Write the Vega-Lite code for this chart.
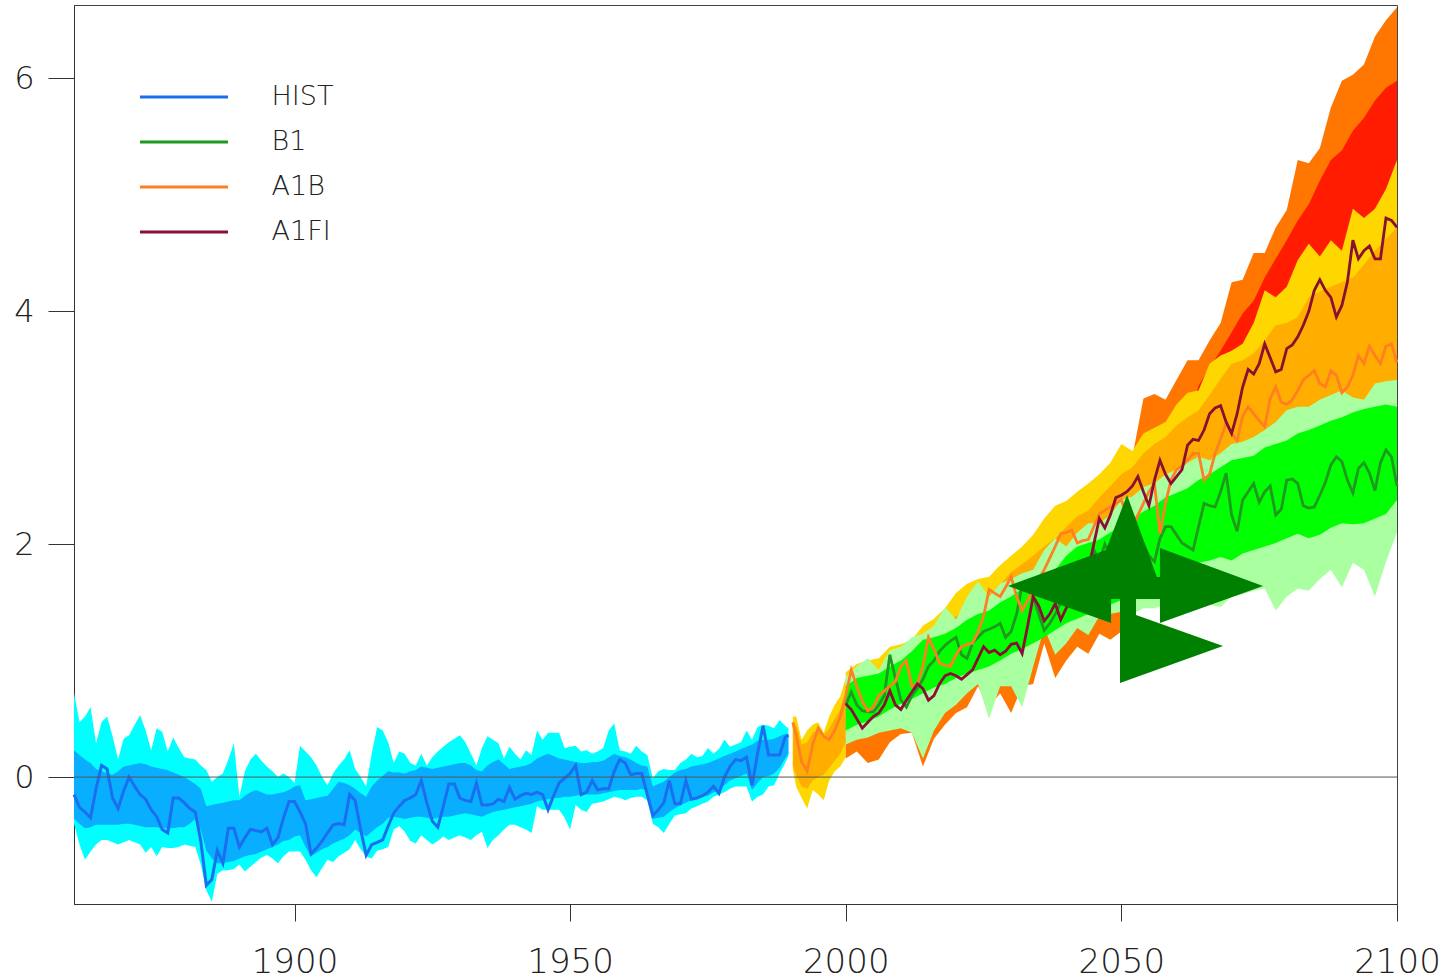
{
 "$schema": "https://vega.github.io/schema/vega-lite/v6.json",
 "width": 1323,
 "height": 899,
 "autosize": {"type": "none"},
 "padding": {"left": 74, "top": 5, "right": 50, "bottom": 76},
 "background": "white",
 "datasets": {
  "hist": [
{"year":1860,"h95":0.72,"h50":0.23,"l50":-0.36,"l95":-0.40,"m":-0.15},
{"year":1861,"h95":0.47,"h50":0.19,"l50":-0.40,"l95":-0.58,"m":-0.26},
{"year":1862,"h95":0.52,"h50":0.15,"l50":-0.44,"l95":-0.71,"m":-0.30},
{"year":1863,"h95":0.60,"h50":0.12,"l50":-0.43,"l95":-0.64,"m":-0.35},
{"year":1864,"h95":0.29,"h50":0.07,"l50":-0.41,"l95":-0.58,"m":-0.10},
{"year":1865,"h95":0.47,"h50":0.05,"l50":-0.41,"l95":-0.54,"m":0.10},
{"year":1866,"h95":0.52,"h50":0.03,"l50":-0.41,"l95":-0.54,"m":0.07},
{"year":1867,"h95":0.35,"h50":0.02,"l50":-0.41,"l95":-0.56,"m":-0.18},
{"year":1868,"h95":0.15,"h50":0.05,"l50":-0.41,"l95":-0.58,"m":-0.27},
{"year":1869,"h95":0.33,"h50":0.09,"l50":-0.40,"l95":-0.56,"m":-0.12},
{"year":1870,"h95":0.36,"h50":0.10,"l50":-0.40,"l95":-0.54,"m":0.00},
{"year":1871,"h95":0.45,"h50":0.11,"l50":-0.41,"l95":-0.56,"m":-0.08},
{"year":1872,"h95":0.53,"h50":0.12,"l50":-0.42,"l95":-0.58,"m":-0.15},
{"year":1873,"h95":0.40,"h50":0.11,"l50":-0.43,"l95":-0.65,"m":-0.19},
{"year":1874,"h95":0.23,"h50":0.09,"l50":-0.43,"l95":-0.60,"m":-0.28},
{"year":1875,"h95":0.42,"h50":0.08,"l50":-0.43,"l95":-0.68,"m":-0.34},
{"year":1876,"h95":0.39,"h50":0.07,"l50":-0.44,"l95":-0.60,"m":-0.45},
{"year":1877,"h95":0.22,"h50":0.06,"l50":-0.44,"l95":-0.61,"m":-0.48},
{"year":1878,"h95":0.34,"h50":0.04,"l50":-0.44,"l95":-0.61,"m":-0.18},
{"year":1879,"h95":0.25,"h50":0.02,"l50":-0.43,"l95":-0.60,"m":-0.18},
{"year":1880,"h95":0.17,"h50":0.00,"l50":-0.43,"l95":-0.58,"m":-0.22},
{"year":1881,"h95":0.16,"h50":-0.03,"l50":-0.40,"l95":-0.59,"m":-0.27},
{"year":1882,"h95":0.15,"h50":-0.06,"l50":-0.36,"l95":-0.60,"m":-0.30},
{"year":1883,"h95":0.10,"h50":-0.10,"l50":-0.45,"l95":-0.75,"m":-0.55},
{"year":1884,"h95":0.06,"h50":-0.25,"l50":-0.63,"l95":-0.97,"m":-0.93},
{"year":1885,"h95":-0.04,"h50":-0.24,"l50":-0.70,"l95":-1.07,"m":-0.88},
{"year":1886,"h95":0.00,"h50":-0.23,"l50":-0.74,"l95":-0.83,"m":-0.63},
{"year":1887,"h95":0.03,"h50":-0.22,"l50":-0.74,"l95":-0.80,"m":-0.74},
{"year":1888,"h95":0.15,"h50":-0.21,"l50":-0.73,"l95":-0.80,"m":-0.44},
{"year":1889,"h95":0.29,"h50":-0.20,"l50":-0.72,"l95":-0.79,"m":-0.44},
{"year":1890,"h95":-0.17,"h50":-0.20,"l50":-0.70,"l95":-0.75,"m":-0.60},
{"year":1891,"h95":0.05,"h50":-0.16,"l50":-0.68,"l95":-0.81,"m":-0.52},
{"year":1892,"h95":0.15,"h50":-0.13,"l50":-0.67,"l95":-0.77,"m":-0.45},
{"year":1893,"h95":0.20,"h50":-0.11,"l50":-0.66,"l95":-0.73,"m":-0.46},
{"year":1894,"h95":0.14,"h50":-0.13,"l50":-0.64,"l95":-0.69,"m":-0.47},
{"year":1895,"h95":0.09,"h50":-0.15,"l50":-0.62,"l95":-0.67,"m":-0.44},
{"year":1896,"h95":0.05,"h50":-0.15,"l50":-0.60,"l95":-0.70,"m":-0.58},
{"year":1897,"h95":0.00,"h50":-0.14,"l50":-0.58,"l95":-0.74,"m":-0.52},
{"year":1898,"h95":0.03,"h50":-0.13,"l50":-0.55,"l95":-0.68,"m":-0.35},
{"year":1899,"h95":0.00,"h50":-0.11,"l50":-0.54,"l95":-0.64,"m":-0.21},
{"year":1900,"h95":-0.05,"h50":-0.08,"l50":-0.51,"l95":-0.64,"m":-0.21},
{"year":1901,"h95":0.27,"h50":-0.07,"l50":-0.50,"l95":-0.64,"m":-0.30},
{"year":1902,"h95":0.22,"h50":-0.20,"l50":-0.60,"l95":-0.71,"m":-0.40},
{"year":1903,"h95":0.17,"h50":-0.19,"l50":-0.68,"l95":-0.80,"m":-0.66},
{"year":1904,"h95":0.10,"h50":-0.18,"l50":-0.65,"l95":-0.86,"m":-0.61},
{"year":1905,"h95":0.00,"h50":-0.17,"l50":-0.62,"l95":-0.78,"m":-0.55},
{"year":1906,"h95":-0.07,"h50":-0.16,"l50":-0.60,"l95":-0.71,"m":-0.48},
{"year":1907,"h95":0.03,"h50":-0.10,"l50":-0.57,"l95":-0.73,"m":-0.41},
{"year":1908,"h95":0.10,"h50":-0.04,"l50":-0.55,"l95":-0.68,"m":-0.40},
{"year":1909,"h95":0.15,"h50":-0.05,"l50":-0.53,"l95":-0.65,"m":-0.41},
{"year":1910,"h95":0.23,"h50":-0.07,"l50":-0.50,"l95":-0.62,"m":-0.15},
{"year":1911,"h95":0.07,"h50":-0.10,"l50":-0.45,"l95":-0.54,"m":-0.20},
{"year":1912,"h95":0.00,"h50":-0.14,"l50":-0.48,"l95":-0.62,"m":-0.45},
{"year":1913,"h95":-0.08,"h50":-0.17,"l50":-0.51,"l95":-0.68,"m":-0.67},
{"year":1914,"h95":0.20,"h50":-0.08,"l50":-0.47,"l95":-0.70,"m":-0.58},
{"year":1915,"h95":0.43,"h50":-0.03,"l50":-0.43,"l95":-0.63,"m":-0.56},
{"year":1916,"h95":0.40,"h50":0.01,"l50":-0.40,"l95":-0.62,"m":-0.54},
{"year":1917,"h95":0.30,"h50":0.05,"l50":-0.35,"l95":-0.60,"m":-0.42},
{"year":1918,"h95":0.12,"h50":0.04,"l50":-0.34,"l95":-0.45,"m":-0.31},
{"year":1919,"h95":0.22,"h50":0.04,"l50":-0.35,"l95":-0.42,"m":-0.25},
{"year":1920,"h95":0.20,"h50":0.03,"l50":-0.36,"l95":-0.47,"m":-0.20},
{"year":1921,"h95":0.12,"h50":0.05,"l50":-0.35,"l95":-0.55,"m":-0.18},
{"year":1922,"h95":0.10,"h50":0.06,"l50":-0.34,"l95":-0.57,"m":-0.15},
{"year":1923,"h95":0.20,"h50":0.09,"l50":-0.34,"l95":-0.50,"m":-0.03},
{"year":1924,"h95":0.10,"h50":0.08,"l50":-0.35,"l95":-0.54,"m":-0.22},
{"year":1925,"h95":0.17,"h50":0.07,"l50":-0.36,"l95":-0.58,"m":-0.38},
{"year":1926,"h95":0.22,"h50":0.08,"l50":-0.35,"l95":-0.55,"m":-0.43},
{"year":1927,"h95":0.26,"h50":0.09,"l50":-0.34,"l95":-0.51,"m":-0.25},
{"year":1928,"h95":0.30,"h50":0.10,"l50":-0.34,"l95":-0.54,"m":-0.06},
{"year":1929,"h95":0.33,"h50":0.11,"l50":-0.33,"l95":-0.52,"m":-0.06},
{"year":1930,"h95":0.36,"h50":0.12,"l50":-0.32,"l95":-0.50,"m":-0.18},
{"year":1931,"h95":0.30,"h50":0.12,"l50":-0.31,"l95":-0.52,"m":-0.20},
{"year":1932,"h95":0.20,"h50":0.10,"l50":-0.32,"l95":-0.54,"m":-0.21},
{"year":1933,"h95":0.10,"h50":0.06,"l50":-0.33,"l95":-0.50,"m":-0.05},
{"year":1934,"h95":0.25,"h50":0.05,"l50":-0.34,"l95":-0.47,"m":-0.24},
{"year":1935,"h95":0.35,"h50":0.10,"l50":-0.32,"l95":-0.61,"m":-0.24},
{"year":1936,"h95":0.32,"h50":0.13,"l50":-0.30,"l95":-0.54,"m":-0.23},
{"year":1937,"h95":0.29,"h50":0.15,"l50":-0.29,"l95":-0.50,"m":-0.19},
{"year":1938,"h95":0.16,"h50":0.11,"l50":-0.28,"l95":-0.45,"m":-0.21},
{"year":1939,"h95":0.26,"h50":0.07,"l50":-0.27,"l95":-0.41,"m":-0.09},
{"year":1940,"h95":0.20,"h50":0.08,"l50":-0.26,"l95":-0.41,"m":-0.19},
{"year":1941,"h95":0.15,"h50":0.09,"l50":-0.25,"l95":-0.43,"m":-0.16},
{"year":1942,"h95":0.23,"h50":0.10,"l50":-0.24,"l95":-0.45,"m":-0.14},
{"year":1943,"h95":0.19,"h50":0.12,"l50":-0.23,"l95":-0.48,"m":-0.15},
{"year":1944,"h95":0.40,"h50":0.16,"l50":-0.21,"l95":-0.25,"m":-0.13},
{"year":1945,"h95":0.32,"h50":0.18,"l50":-0.20,"l95":-0.28,"m":-0.15},
{"year":1946,"h95":0.38,"h50":0.20,"l50":-0.19,"l95":-0.28,"m":-0.28},
{"year":1947,"h95":0.38,"h50":0.18,"l50":-0.18,"l95":-0.28,"m":-0.16},
{"year":1948,"h95":0.38,"h50":0.16,"l50":-0.18,"l95":-0.28,"m":-0.05},
{"year":1949,"h95":0.25,"h50":0.15,"l50":-0.17,"l95":-0.35,"m":-0.01},
{"year":1950,"h95":0.26,"h50":0.14,"l50":-0.17,"l95":-0.45,"m":0.03},
{"year":1951,"h95":0.27,"h50":0.13,"l50":-0.16,"l95":-0.24,"m":0.10},
{"year":1952,"h95":0.22,"h50":0.12,"l50":-0.15,"l95":-0.28,"m":-0.15},
{"year":1953,"h95":0.23,"h50":0.12,"l50":-0.15,"l95":-0.30,"m":-0.13},
{"year":1954,"h95":0.20,"h50":0.13,"l50":-0.15,"l95":-0.23,"m":-0.03},
{"year":1955,"h95":0.22,"h50":0.13,"l50":-0.15,"l95":-0.22,"m":-0.11},
{"year":1956,"h95":0.25,"h50":0.14,"l50":-0.14,"l95":-0.21,"m":-0.10},
{"year":1957,"h95":0.40,"h50":0.17,"l50":-0.13,"l95":-0.19,"m":-0.10},
{"year":1958,"h95":0.46,"h50":0.20,"l50":-0.12,"l95":-0.17,"m":0.05},
{"year":1959,"h95":0.23,"h50":0.18,"l50":-0.11,"l95":-0.18,"m":0.15},
{"year":1960,"h95":0.22,"h50":0.17,"l50":-0.11,"l95":-0.20,"m":0.12},
{"year":1961,"h95":0.20,"h50":0.15,"l50":-0.11,"l95":-0.18,"m":0.02},
{"year":1962,"h95":0.27,"h50":0.12,"l50":-0.11,"l95":-0.17,"m":0.03},
{"year":1963,"h95":0.22,"h50":0.10,"l50":-0.10,"l95":-0.17,"m":0.03},
{"year":1964,"h95":0.19,"h50":0.09,"l50":-0.12,"l95":-0.20,"m":-0.15},
{"year":1965,"h95":-0.01,"h50":-0.08,"l50":-0.36,"l95":-0.40,"m":-0.33},
{"year":1966,"h95":0.05,"h50":-0.06,"l50":-0.35,"l95":-0.43,"m":-0.28},
{"year":1967,"h95":0.07,"h50":-0.04,"l50":-0.34,"l95":-0.48,"m":-0.22},
{"year":1968,"h95":0.06,"h50":0.00,"l50":-0.30,"l95":-0.40,"m":-0.03},
{"year":1969,"h95":0.06,"h50":0.04,"l50":-0.27,"l95":-0.33,"m":-0.23},
{"year":1970,"h95":0.12,"h50":0.06,"l50":-0.24,"l95":-0.32,"m":-0.23},
{"year":1971,"h95":0.15,"h50":0.07,"l50":-0.22,"l95":-0.31,"m":-0.03},
{"year":1972,"h95":0.20,"h50":0.09,"l50":-0.20,"l95":-0.27,"m":-0.19},
{"year":1973,"h95":0.17,"h50":0.10,"l50":-0.19,"l95":-0.25,"m":-0.18},
{"year":1974,"h95":0.18,"h50":0.11,"l50":-0.17,"l95":-0.23,"m":-0.16},
{"year":1975,"h95":0.25,"h50":0.12,"l50":-0.16,"l95":-0.21,"m":-0.13},
{"year":1976,"h95":0.20,"h50":0.14,"l50":-0.13,"l95":-0.17,"m":-0.08},
{"year":1977,"h95":0.24,"h50":0.16,"l50":-0.11,"l95":-0.15,"m":-0.14},
{"year":1978,"h95":0.32,"h50":0.18,"l50":-0.07,"l95":-0.13,"m":0.00},
{"year":1979,"h95":0.26,"h50":0.20,"l50":-0.03,"l95":-0.10,"m":0.09},
{"year":1980,"h95":0.28,"h50":0.22,"l50":-0.01,"l95":-0.08,"m":0.15},
{"year":1981,"h95":0.30,"h50":0.24,"l50":0.01,"l95":-0.08,"m":0.14},
{"year":1982,"h95":0.40,"h50":0.26,"l50":0.03,"l95":-0.08,"m":0.17},
{"year":1983,"h95":0.32,"h50":0.28,"l50":-0.11,"l95":-0.21,"m":-0.07},
{"year":1984,"h95":0.43,"h50":0.31,"l50":-0.05,"l95":-0.17,"m":0.20},
{"year":1985,"h95":0.45,"h50":0.32,"l50":0.00,"l95":-0.15,"m":0.44},
{"year":1986,"h95":0.44,"h50":0.32,"l50":0.01,"l95":-0.08,"m":0.19},
{"year":1987,"h95":0.42,"h50":0.33,"l50":0.03,"l95":-0.07,"m":0.19},
{"year":1988,"h95":0.49,"h50":0.35,"l50":0.08,"l95":0.03,"m":0.19},
{"year":1989,"h95":0.44,"h50":0.37,"l50":0.16,"l95":0.12,"m":0.34},
{"year":1989.6,"h95":0.42,"h50":0.37,"l50":0.20,"l95":0.18,"m":0.36}
  ],
  "trans": [
{"year":1990.4,"h95":0.52,"h50":0.48,"l50":0.10,"l95":0.07,"m":0.47},
{"year":1991,"h95":0.52,"h50":0.45,"l50":0.02,"l95":-0.08,"m":0.36},
{"year":1992,"h95":0.32,"h50":0.28,"l50":-0.08,"l95":-0.18,"m":0.13},
{"year":1993,"h95":0.40,"h50":0.30,"l50":-0.10,"l95":-0.27,"m":0.05},
{"year":1994,"h95":0.45,"h50":0.38,"l50":-0.03,"l95":-0.11,"m":0.28},
{"year":1995,"h95":0.47,"h50":0.40,"l50":0.00,"l95":-0.15,"m":0.42},
{"year":1996,"h95":0.38,"h50":0.36,"l50":0.02,"l95":-0.20,"m":0.35},
{"year":1997,"h95":0.52,"h50":0.42,"l50":0.08,"l95":-0.03,"m":0.32},
{"year":1998,"h95":0.62,"h50":0.50,"l50":0.14,"l95":0.05,"m":0.40},
{"year":1999,"h95":0.69,"h50":0.58,"l50":0.20,"l95":0.09,"m":0.52},
{"year":2000,"h95":0.85,"h50":0.68,"l50":0.30,"l95":0.17,"m":0.70}
  ],
  "bands": [
{"year":2000,"f95h":0.80,"f50h":0.63,"f50l":0.40,"f95l":0.16,"b95h":0.90,"b50h":0.80,"b50l":0.45,"b95l":0.33,"g95h":0.86,"g50h":0.78,"g50l":0.40,"g95l":0.28},
{"year":2002,"f95h":0.89,"f50h":0.72,"f50l":0.45,"f95l":0.22,"b95h":0.97,"b50h":0.84,"b50l":0.50,"b95l":0.37,"g95h":0.95,"g50h":0.85,"g50l":0.45,"g95l":0.32},
{"year":2004,"f95h":0.92,"f50h":0.75,"f50l":0.48,"f95l":0.12,"b95h":1.00,"b50h":0.86,"b50l":0.53,"b95l":0.39,"g95h":1.02,"g50h":0.87,"g50l":0.48,"g95l":0.34},
{"year":2006,"f95h":0.94,"f50h":0.77,"f50l":0.52,"f95l":0.15,"b95h":1.02,"b50h":0.90,"b50l":0.57,"b95l":0.43,"g95h":0.92,"g50h":0.89,"g50l":0.52,"g95l":0.38},
{"year":2008,"f95h":1.04,"f50h":0.87,"f50l":0.58,"f95l":0.30,"b95h":1.12,"b50h":0.98,"b50l":0.63,"b95l":0.45,"g95h":1.09,"g50h":0.95,"g50l":0.58,"g95l":0.40},
{"year":2010,"f95h":1.06,"f50h":0.89,"f50l":0.63,"f95l":0.37,"b95h":1.14,"b50h":1.06,"b50l":0.68,"b95l":0.47,"g95h":1.12,"g50h":1.00,"g50l":0.63,"g95l":0.42},
{"year":2012,"f95h":1.10,"f50h":0.93,"f50l":0.67,"f95l":0.38,"b95h":1.18,"b50h":1.10,"b50l":0.72,"b95l":0.43,"g95h":1.20,"g50h":1.08,"g50l":0.67,"g95l":0.38},
{"year":2014,"f95h":1.22,"f50h":1.05,"f50l":0.72,"f95l":0.09,"b95h":1.30,"b50h":1.17,"b50l":0.77,"b95l":0.21,"g95h":1.23,"g50h":1.18,"g50l":0.72,"g95l":0.16},
{"year":2016,"f95h":1.28,"f50h":1.11,"f50l":0.77,"f95l":0.33,"b95h":1.36,"b50h":1.24,"b50l":0.82,"b95l":0.45,"g95h":1.30,"g50h":1.20,"g50l":0.77,"g95l":0.40},
{"year":2018,"f95h":1.37,"f50h":1.20,"f50l":0.80,"f95l":0.45,"b95h":1.45,"b50h":1.31,"b50l":0.85,"b95l":0.60,"g95h":1.46,"g50h":1.23,"g50l":0.80,"g95l":0.55},
{"year":2020,"f95h":1.50,"f50h":1.33,"f50l":0.85,"f95l":0.55,"b95h":1.58,"b50h":1.38,"b50l":0.90,"b95l":0.67,"g95h":1.35,"g50h":1.28,"g50l":0.85,"g95l":0.62},
{"year":2022,"f95h":1.58,"f50h":1.41,"f50l":0.89,"f95l":0.60,"b95h":1.66,"b50h":1.45,"b50l":0.94,"b95l":0.77,"g95h":1.55,"g50h":1.35,"g50l":0.89,"g95l":0.72},
{"year":2024,"f95h":1.62,"f50h":1.45,"f50l":0.92,"f95l":0.78,"b95h":1.70,"b50h":1.52,"b50l":0.97,"b95l":0.85,"g95h":1.68,"g50h":1.40,"g50l":0.92,"g95l":0.80},
{"year":2026,"f95h":1.64,"f50h":1.47,"f50l":0.95,"f95l":0.60,"b95h":1.72,"b50h":1.57,"b50l":1.00,"b95l":0.55,"g95h":1.55,"g50h":1.43,"g50l":0.95,"g95l":0.50},
{"year":2028,"f95h":1.74,"f50h":1.57,"f50l":1.00,"f95l":0.72,"b95h":1.82,"b50h":1.65,"b50l":1.05,"b95l":0.83,"g95h":1.66,"g50h":1.50,"g50l":1.00,"g95l":0.78},
{"year":2030,"f95h":1.82,"f50h":1.65,"f50l":1.06,"f95l":0.55,"b95h":1.90,"b50h":1.76,"b50l":1.11,"b95l":0.83,"g95h":1.70,"g50h":1.55,"g50l":1.06,"g95l":0.78},
{"year":2032,"f95h":1.90,"f50h":1.73,"f50l":1.10,"f95l":0.78,"b95h":1.98,"b50h":1.83,"b50l":1.15,"b95l":0.65,"g95h":1.75,"g50h":1.62,"g50l":1.10,"g95l":0.60},
{"year":2034,"f95h":2.00,"f50h":1.83,"f50l":1.15,"f95l":0.80,"b95h":2.08,"b50h":1.90,"b50l":1.20,"b95l":1.00,"g95h":1.78,"g50h":1.69,"g50l":1.15,"g95l":0.95},
{"year":2036,"f95h":2.14,"f50h":1.97,"f50l":1.20,"f95l":1.15,"b95h":2.22,"b50h":1.98,"b50l":1.25,"b95l":1.33,"g95h":1.95,"g50h":1.74,"g50l":1.20,"g95l":1.28},
{"year":2038,"f95h":2.25,"f50h":2.08,"f50l":1.26,"f95l":0.85,"b95h":2.33,"b50h":2.05,"b50l":1.31,"b95l":1.10,"g95h":2.05,"g50h":1.78,"g50l":1.26,"g95l":1.05},
{"year":2040,"f95h":2.29,"f50h":2.12,"f50l":1.32,"f95l":1.00,"b95h":2.37,"b50h":2.15,"b50l":1.37,"b95l":1.20,"g95h":1.98,"g50h":1.90,"g50l":1.32,"g95l":1.15},
{"year":2042,"f95h":2.37,"f50h":2.20,"f50l":1.36,"f95l":1.12,"b95h":2.45,"b50h":2.24,"b50l":1.41,"b95l":1.33,"g95h":2.10,"g50h":1.98,"g50l":1.36,"g95l":1.28},
{"year":2044,"f95h":2.44,"f50h":2.27,"f50l":1.40,"f95l":1.06,"b95h":2.52,"b50h":2.29,"b50l":1.45,"b95l":1.27,"g95h":2.18,"g50h":2.01,"g50l":1.40,"g95l":1.22},
{"year":2046,"f95h":2.52,"f50h":2.35,"f50l":1.44,"f95l":1.23,"b95h":2.60,"b50h":2.40,"b50l":1.49,"b95l":1.43,"g95h":2.18,"g50h":2.04,"g50l":1.44,"g95l":1.38},
{"year":2048,"f95h":2.62,"f50h":2.45,"f50l":1.48,"f95l":1.18,"b95h":2.70,"b50h":2.50,"b50l":1.53,"b95l":1.45,"g95h":2.25,"g50h":2.10,"g50l":1.48,"g95l":1.40},
{"year":2050,"f95h":2.78,"f50h":2.61,"f50l":1.52,"f95l":1.25,"b95h":2.86,"b50h":2.60,"b50l":1.57,"b95l":1.47,"g95h":2.38,"g50h":2.16,"g50l":1.52,"g95l":1.42},
{"year":2052,"f95h":2.75,"f50h":2.55,"f50l":1.56,"f95l":1.70,"b95h":2.80,"b50h":2.66,"b50l":1.61,"b95l":1.45,"g95h":2.41,"g50h":2.22,"g50l":1.56,"g95l":1.40},
{"year":2054,"f95h":3.25,"f50h":2.70,"f50l":1.60,"f95l":1.75,"b95h":2.95,"b50h":2.78,"b50l":1.65,"b95l":1.50,"g95h":2.49,"g50h":2.28,"g50l":1.60,"g95l":1.45},
{"year":2056,"f95h":3.29,"f50h":2.75,"f50l":1.65,"f95l":1.75,"b95h":3.00,"b50h":2.86,"b50l":1.70,"b95l":1.50,"g95h":2.52,"g50h":2.33,"g50l":1.65,"g95l":1.45},
{"year":2058,"f95h":3.24,"f50h":2.80,"f50l":1.72,"f95l":1.79,"b95h":3.05,"b50h":2.92,"b50l":1.77,"b95l":1.54,"g95h":2.60,"g50h":2.40,"g50l":1.72,"g95l":1.49},
{"year":2060,"f95h":3.41,"f50h":2.95,"f50l":1.78,"f95l":1.72,"b95h":3.20,"b50h":3.02,"b50l":1.83,"b95l":1.47,"g95h":2.64,"g50h":2.44,"g50l":1.78,"g95l":1.42},
{"year":2062,"f95h":3.58,"f50h":3.05,"f50l":1.82,"f95l":1.80,"b95h":3.30,"b50h":3.09,"b50l":1.87,"b95l":1.55,"g95h":2.70,"g50h":2.48,"g50l":1.82,"g95l":1.50},
{"year":2064,"f95h":3.58,"f50h":3.36,"f50l":1.84,"f95l":1.85,"b95h":3.32,"b50h":3.15,"b50l":1.89,"b95l":1.60,"g95h":2.75,"g50h":2.55,"g50l":1.84,"g95l":1.55},
{"year":2066,"f95h":3.75,"f50h":3.52,"f50l":1.86,"f95l":1.78,"b95h":3.55,"b50h":3.28,"b50l":1.91,"b95l":1.53,"g95h":2.72,"g50h":2.60,"g50l":1.86,"g95l":1.48},
{"year":2068,"f95h":3.90,"f50h":3.66,"f50l":1.89,"f95l":1.76,"b95h":3.62,"b50h":3.42,"b50l":1.94,"b95l":1.51,"g95h":2.78,"g50h":2.66,"g50l":1.89,"g95l":1.46},
{"year":2070,"f95h":4.25,"f50h":3.82,"f50l":1.86,"f95l":1.85,"b95h":3.66,"b50h":3.55,"b50l":1.91,"b95l":1.60,"g95h":2.86,"g50h":2.72,"g50l":1.86,"g95l":1.55},
{"year":2072,"f95h":4.27,"f50h":3.98,"f50l":1.92,"f95l":1.87,"b95h":3.72,"b50h":3.58,"b50l":1.97,"b95l":1.62,"g95h":2.88,"g50h":2.74,"g50l":1.92,"g95l":1.57},
{"year":2074,"f95h":4.50,"f50h":4.09,"f50l":1.95,"f95l":1.90,"b95h":3.90,"b50h":3.64,"b50l":2.00,"b95l":1.65,"g95h":2.92,"g50h":2.76,"g50l":1.95,"g95l":1.60},
{"year":2076,"f95h":4.50,"f50h":4.29,"f50l":1.98,"f95l":1.92,"b95h":4.18,"b50h":3.75,"b50l":2.03,"b95l":1.67,"g95h":2.98,"g50h":2.83,"g50l":1.98,"g95l":1.62},
{"year":2078,"f95h":4.72,"f50h":4.45,"f50l":2.01,"f95l":1.73,"b95h":4.12,"b50h":3.88,"b50l":2.06,"b95l":1.48,"g95h":3.05,"g50h":2.86,"g50l":2.01,"g95l":1.43},
{"year":2080,"f95h":4.87,"f50h":4.61,"f50l":2.05,"f95l":1.85,"b95h":4.21,"b50h":3.90,"b50l":2.10,"b95l":1.60,"g95h":3.15,"g50h":2.89,"g50l":2.05,"g95l":1.55},
{"year":2082,"f95h":5.30,"f50h":4.78,"f50l":2.09,"f95l":1.92,"b95h":4.44,"b50h":3.95,"b50l":2.14,"b95l":1.67,"g95h":3.18,"g50h":2.95,"g50l":2.09,"g95l":1.62},
{"year":2084,"f95h":5.27,"f50h":4.92,"f50l":2.05,"f95l":1.90,"b95h":4.58,"b50h":4.12,"b50l":2.10,"b95l":1.65,"g95h":3.18,"g50h":2.98,"g50l":2.05,"g95l":1.60},
{"year":2086,"f95h":5.40,"f50h":5.12,"f50l":2.08,"f95l":2.00,"b95h":4.47,"b50h":4.17,"b50l":2.13,"b95l":1.75,"g95h":3.24,"g50h":3.02,"g50l":2.08,"g95l":1.70},
{"year":2088,"f95h":5.75,"f50h":5.30,"f50l":2.14,"f95l":2.08,"b95h":4.61,"b50h":4.21,"b50l":2.19,"b95l":1.83,"g95h":3.28,"g50h":3.06,"g50l":2.14,"g95l":1.78},
{"year":2090,"f95h":5.98,"f50h":5.38,"f50l":2.18,"f95l":1.93,"b95h":4.52,"b50h":4.25,"b50l":2.23,"b95l":1.68,"g95h":3.32,"g50h":3.09,"g50l":2.18,"g95l":1.63},
{"year":2092,"f95h":6.03,"f50h":5.55,"f50l":2.17,"f95l":2.14,"b95h":4.88,"b50h":4.29,"b50l":2.22,"b95l":1.89,"g95h":3.26,"g50h":3.13,"g50l":2.17,"g95l":1.84},
{"year":2094,"f95h":6.12,"f50h":5.66,"f50l":2.18,"f95l":2.08,"b95h":4.80,"b50h":4.40,"b50l":2.23,"b95l":1.83,"g95h":3.24,"g50h":3.16,"g50l":2.18,"g95l":1.78},
{"year":2096,"f95h":6.36,"f50h":5.81,"f50l":2.22,"f95l":1.85,"b95h":4.88,"b50h":4.52,"b50l":2.27,"b95l":1.60,"g95h":3.38,"g50h":3.18,"g50l":2.22,"g95l":1.55},
{"year":2098,"f95h":6.50,"f50h":5.92,"f50l":2.26,"f95l":2.15,"b95h":5.05,"b50h":4.62,"b50l":2.31,"b95l":1.90,"g95h":3.40,"g50h":3.20,"g50l":2.26,"g95l":1.85},
{"year":2100,"f95h":6.61,"f50h":5.98,"f50l":2.38,"f95l":2.40,"b95h":5.30,"b50h":4.72,"b50l":2.43,"b95l":2.15,"g95h":3.41,"g50h":3.18,"g50l":2.38,"g95l":2.10}
  ],
  "lines": [
{"year":2000,"g":0.62,"b":0.70,"f":0.63},
{"year":2001,"g":0.73,"b":0.92,"f":0.58},
{"year":2002,"g":0.62,"b":0.78,"f":0.50},
{"year":2003,"g":0.57,"b":0.65,"f":0.42},
{"year":2004,"g":0.56,"b":0.57,"f":0.47},
{"year":2005,"g":0.56,"b":0.60,"f":0.52},
{"year":2006,"g":0.62,"b":0.70,"f":0.55},
{"year":2007,"g":0.70,"b":0.74,"f":0.62},
{"year":2008,"g":1.05,"b":0.78,"f":0.74},
{"year":2009,"g":0.85,"b":0.82,"f":0.62},
{"year":2010,"g":0.66,"b":0.95,"f":0.58},
{"year":2011,"g":0.60,"b":1.00,"f":0.66},
{"year":2012,"g":0.70,"b":0.78,"f":0.73},
{"year":2013,"g":0.76,"b":0.80,"f":0.80},
{"year":2014,"g":0.84,"b":0.95,"f":0.76},
{"year":2015,"g":0.95,"b":1.20,"f":0.66},
{"year":2016,"g":1.00,"b":1.10,"f":0.70},
{"year":2017,"g":1.08,"b":0.98,"f":0.80},
{"year":2018,"g":1.13,"b":0.96,"f":0.87},
{"year":2019,"g":1.17,"b":0.95,"f":0.89},
{"year":2020,"g":1.20,"b":1.05,"f":0.87},
{"year":2021,"g":1.05,"b":1.12,"f":0.84},
{"year":2022,"g":1.02,"b":1.14,"f":0.88},
{"year":2023,"g":1.15,"b":1.15,"f":0.92},
{"year":2024,"g":1.20,"b":1.25,"f":1.02},
{"year":2025,"g":1.25,"b":1.38,"f":1.12},
{"year":2026,"g":1.27,"b":1.61,"f":1.07},
{"year":2027,"g":1.29,"b":1.58,"f":1.09},
{"year":2028,"g":1.32,"b":1.55,"f":1.05},
{"year":2029,"g":1.20,"b":1.63,"f":1.08},
{"year":2030,"g":1.25,"b":1.72,"f":1.14},
{"year":2031,"g":1.40,"b":1.55,"f":1.15},
{"year":2032,"g":1.65,"b":1.43,"f":1.06},
{"year":2033,"g":1.60,"b":1.52,"f":1.30},
{"year":2034,"g":1.55,"b":1.61,"f":1.55},
{"year":2035,"g":1.40,"b":1.70,"f":1.47},
{"year":2036,"g":1.26,"b":1.78,"f":1.34},
{"year":2037,"g":1.32,"b":1.88,"f":1.40},
{"year":2038,"g":1.40,"b":1.98,"f":1.49},
{"year":2039,"g":1.50,"b":2.09,"f":1.35},
{"year":2040,"g":1.65,"b":2.10,"f":1.45},
{"year":2041,"g":1.75,"b":2.12,"f":1.55},
{"year":2042,"g":1.70,"b":2.01,"f":1.70},
{"year":2043,"g":1.85,"b":2.03,"f":1.84},
{"year":2044,"g":1.75,"b":2.04,"f":1.78},
{"year":2045,"g":1.95,"b":2.15,"f":2.00},
{"year":2046,"g":1.85,"b":2.26,"f":2.22},
{"year":2047,"g":2.00,"b":2.29,"f":2.14},
{"year":2048,"g":1.90,"b":2.32,"f":2.25},
{"year":2049,"g":2.10,"b":2.35,"f":2.40},
{"year":2050,"g":2.00,"b":2.38,"f":2.42},
{"year":2051,"g":2.15,"b":2.25,"f":2.45},
{"year":2052,"g":1.95,"b":2.12,"f":2.50},
{"year":2053,"g":2.10,"b":2.25,"f":2.58},
{"year":2054,"g":2.00,"b":2.35,"f":2.45},
{"year":2055,"g":1.90,"b":2.45,"f":2.33},
{"year":2056,"g":1.85,"b":2.52,"f":2.55},
{"year":2057,"g":2.05,"b":2.09,"f":2.72},
{"year":2058,"g":2.15,"b":2.35,"f":2.60},
{"year":2059,"g":2.15,"b":2.55,"f":2.52},
{"year":2060,"g":2.08,"b":2.64,"f":2.58},
{"year":2061,"g":2.01,"b":2.67,"f":2.64},
{"year":2062,"g":1.98,"b":2.72,"f":2.85},
{"year":2063,"g":1.95,"b":2.78,"f":2.90},
{"year":2064,"g":2.15,"b":2.78,"f":2.89},
{"year":2065,"g":2.35,"b":2.55,"f":2.98},
{"year":2066,"g":2.33,"b":2.60,"f":3.12},
{"year":2067,"g":2.32,"b":2.78,"f":3.17},
{"year":2068,"g":2.45,"b":2.90,"f":3.19},
{"year":2069,"g":2.61,"b":3.04,"f":3.05},
{"year":2070,"g":2.25,"b":2.95,"f":2.95},
{"year":2071,"g":2.11,"b":2.89,"f":3.12},
{"year":2072,"g":2.38,"b":3.10,"f":3.35},
{"year":2073,"g":2.45,"b":3.18,"f":3.50},
{"year":2074,"g":2.52,"b":3.12,"f":3.46},
{"year":2075,"g":2.36,"b":3.06,"f":3.55},
{"year":2076,"g":2.45,"b":3.01,"f":3.72},
{"year":2077,"g":2.50,"b":3.25,"f":3.60},
{"year":2078,"g":2.25,"b":3.35,"f":3.48},
{"year":2079,"g":2.30,"b":3.22,"f":3.50},
{"year":2080,"g":2.55,"b":3.20,"f":3.68},
{"year":2081,"g":2.56,"b":3.24,"f":3.71},
{"year":2082,"g":2.52,"b":3.32,"f":3.78},
{"year":2083,"g":2.33,"b":3.41,"f":3.88},
{"year":2084,"g":2.31,"b":3.45,"f":4.00},
{"year":2085,"g":2.32,"b":3.49,"f":4.18},
{"year":2086,"g":2.42,"b":3.38,"f":4.27},
{"year":2087,"g":2.53,"b":3.35,"f":4.18},
{"year":2088,"g":2.68,"b":3.49,"f":4.12},
{"year":2089,"g":2.75,"b":3.45,"f":3.95},
{"year":2090,"g":2.71,"b":3.30,"f":4.05},
{"year":2091,"g":2.55,"b":3.35,"f":4.25},
{"year":2092,"g":2.44,"b":3.45,"f":4.61},
{"year":2093,"g":2.65,"b":3.62,"f":4.45},
{"year":2094,"g":2.70,"b":3.55,"f":4.52},
{"year":2095,"g":2.61,"b":3.70,"f":4.56},
{"year":2096,"g":2.46,"b":3.62,"f":4.45},
{"year":2097,"g":2.70,"b":3.55,"f":4.45},
{"year":2098,"g":2.81,"b":3.70,"f":4.80},
{"year":2099,"g":2.75,"b":3.72,"f":4.78},
{"year":2100,"g":2.50,"b":3.56,"f":4.72}
  ],
  "glyph": [{"year": 2052.56, "temp": 1.615}]
 },
 "layer": [
  {"data": {"name": "hist"}, "mark": {"type": "area", "color": "#00FFFF"},
   "encoding": {"x": {"field": "year", "type": "quantitative", "scale": {"domain": [1860, 2100], "nice": false, "zero": false}, "title": null, "axis": {"values": [1900, 1950, 2000, 2050, 2100], "format": "d", "labelFontSize": 34, "labelPadding": 24}},
    "y": {"field": "l95", "type": "quantitative", "scale": {"domain": [-1.09, 6.63], "nice": false, "zero": false}, "title": null, "axis": {"values": [0, 2, 4, 6], "format": "d"}}, "y2": {"field": "h95"}}},
  {"data": {"name": "hist"}, "mark": {"type": "area", "color": "#0AAEFF"},
   "encoding": {"x": {"field": "year", "type": "quantitative", "scale": {"domain": [1860, 2100], "nice": false, "zero": false}, "title": null},
    "y": {"field": "l50", "type": "quantitative", "scale": {"domain": [-1.09, 6.63], "nice": false, "zero": false}, "title": null}, "y2": {"field": "h50"}}},
  {"data": {"name": "trans"}, "mark": {"type": "area", "color": "#FFD700"},
   "encoding": {"x": {"field": "year", "type": "quantitative", "scale": {"domain": [1860, 2100], "nice": false, "zero": false}, "title": null},
    "y": {"field": "l95", "type": "quantitative", "scale": {"domain": [-1.09, 6.63], "nice": false, "zero": false}, "title": null}, "y2": {"field": "h95"}}},
  {"data": {"name": "trans"}, "mark": {"type": "area", "color": "#FFAE00"},
   "encoding": {"x": {"field": "year", "type": "quantitative", "scale": {"domain": [1860, 2100], "nice": false, "zero": false}, "title": null},
    "y": {"field": "l50", "type": "quantitative", "scale": {"domain": [-1.09, 6.63], "nice": false, "zero": false}, "title": null}, "y2": {"field": "h50"}}},
  {"data": {"name": "bands"}, "mark": {"type": "area", "color": "#FF7700"},
   "encoding": {"x": {"field": "year", "type": "quantitative", "scale": {"domain": [1860, 2100], "nice": false, "zero": false}, "title": null},
    "y": {"field": "f95l", "type": "quantitative", "scale": {"domain": [-1.09, 6.63], "nice": false, "zero": false}, "title": null}, "y2": {"field": "f95h"}}},
  {"data": {"name": "bands"}, "mark": {"type": "area", "color": "#FF1C00"},
   "encoding": {"x": {"field": "year", "type": "quantitative", "scale": {"domain": [1860, 2100], "nice": false, "zero": false}, "title": null},
    "y": {"field": "f50l", "type": "quantitative", "scale": {"domain": [-1.09, 6.63], "nice": false, "zero": false}, "title": null}, "y2": {"field": "f50h"}}},
  {"data": {"name": "bands"}, "mark": {"type": "area", "color": "#FFD700"},
   "encoding": {"x": {"field": "year", "type": "quantitative", "scale": {"domain": [1860, 2100], "nice": false, "zero": false}, "title": null},
    "y": {"field": "b95l", "type": "quantitative", "scale": {"domain": [-1.09, 6.63], "nice": false, "zero": false}, "title": null}, "y2": {"field": "b95h"}}},
  {"data": {"name": "bands"}, "mark": {"type": "area", "color": "#FFAE00"},
   "encoding": {"x": {"field": "year", "type": "quantitative", "scale": {"domain": [1860, 2100], "nice": false, "zero": false}, "title": null},
    "y": {"field": "b50l", "type": "quantitative", "scale": {"domain": [-1.09, 6.63], "nice": false, "zero": false}, "title": null}, "y2": {"field": "b50h"}}},
  {"data": {"name": "bands"}, "mark": {"type": "area", "color": "#AAFFA0"},
   "encoding": {"x": {"field": "year", "type": "quantitative", "scale": {"domain": [1860, 2100], "nice": false, "zero": false}, "title": null},
    "y": {"field": "g95l", "type": "quantitative", "scale": {"domain": [-1.09, 6.63], "nice": false, "zero": false}, "title": null}, "y2": {"field": "g95h"}}},
  {"data": {"name": "bands"}, "mark": {"type": "area", "color": "#00FF00"},
   "encoding": {"x": {"field": "year", "type": "quantitative", "scale": {"domain": [1860, 2100], "nice": false, "zero": false}, "title": null},
    "y": {"field": "g50l", "type": "quantitative", "scale": {"domain": [-1.09, 6.63], "nice": false, "zero": false}, "title": null}, "y2": {"field": "g50h"}}},
  {"data": {"name": "hist"}, "mark": {"type": "line", "strokeWidth": 3},
   "encoding": {"x": {"field": "year", "type": "quantitative", "scale": {"domain": [1860, 2100], "nice": false, "zero": false}, "title": null},
    "y": {"field": "m", "type": "quantitative", "scale": {"domain": [-1.09, 6.63], "nice": false, "zero": false}, "title": null},
    "color": {"datum": "HIST", "type": "nominal", "scale": {"domain": ["HIST", "B1", "A1B", "A1FI"], "range": ["#1a6ff0", "#1f9a1f", "#ff7f24", "#8a0f35"]},
      "legend": {"title": null, "orient": "none", "legendX": 64.5, "legendY": 70.5, "symbolType": "stroke", "symbolSize": 7744, "symbolStrokeWidth": 3, "clipHeight": 43, "rowPadding": 2, "labelOffset": 42, "padding": 0}}}},
  {"data": {"name": "trans"}, "mark": {"type": "line", "strokeWidth": 2.8},
   "encoding": {"x": {"field": "year", "type": "quantitative", "scale": {"domain": [1860, 2100], "nice": false, "zero": false}, "title": null},
    "y": {"field": "m", "type": "quantitative", "scale": {"domain": [-1.09, 6.63], "nice": false, "zero": false}, "title": null},
    "color": {"datum": "A1B", "type": "nominal"}}},
  {"data": {"name": "lines"}, "mark": {"type": "line", "strokeWidth": 2.8},
   "encoding": {"x": {"field": "year", "type": "quantitative", "scale": {"domain": [1860, 2100], "nice": false, "zero": false}, "title": null},
    "y": {"field": "g", "type": "quantitative", "scale": {"domain": [-1.09, 6.63], "nice": false, "zero": false}, "title": null},
    "color": {"datum": "B1", "type": "nominal"}}},
  {"data": {"name": "lines"}, "mark": {"type": "line", "strokeWidth": 2.8},
   "encoding": {"x": {"field": "year", "type": "quantitative", "scale": {"domain": [1860, 2100], "nice": false, "zero": false}, "title": null},
    "y": {"field": "b", "type": "quantitative", "scale": {"domain": [-1.09, 6.63], "nice": false, "zero": false}, "title": null},
    "color": {"datum": "A1B", "type": "nominal"}}},
  {"data": {"name": "lines"}, "mark": {"type": "line", "strokeWidth": 2.8},
   "encoding": {"x": {"field": "year", "type": "quantitative", "scale": {"domain": [1860, 2100], "nice": false, "zero": false}, "title": null},
    "y": {"field": "f", "type": "quantitative", "scale": {"domain": [-1.09, 6.63], "nice": false, "zero": false}, "title": null},
    "color": {"datum": "A1FI", "type": "nominal"}}},
  {"data": {"values": [{}]}, "mark": {"type": "rule", "color": "#555555", "strokeWidth": 1},
   "encoding": {"y": {"datum": 0, "type": "quantitative", "scale": {"domain": [-1.09, 6.63], "nice": false, "zero": false}, "title": null}}},
  {"data": {"name": "glyph"}, "mark": {"type": "point", "shape": "M-0.981,-0.023L-0.227,-0.3L-0.065,-0.723L0.165,-0.092L0.188,-0.092L0.188,-0.315L0.981,-0.023L0.188,0.262L0.188,0.077L0.004,0.077L0.004,0.2L0.673,0.438L-0.119,0.723L-0.119,0.077L-0.188,0.077L-0.188,0.262Z", "size": 67600, "filled": true, "fill": "#008000", "opacity": 1, "strokeWidth": 0},
   "encoding": {"x": {"field": "year", "type": "quantitative", "scale": {"domain": [1860, 2100], "nice": false, "zero": false}, "title": null},
    "y": {"field": "temp", "type": "quantitative", "scale": {"domain": [-1.09, 6.63], "nice": false, "zero": false}, "title": null}}}
 ],
 "config": {
  "view": {"stroke": "#444444", "strokeWidth": 1},
  "axis": {"grid": false, "domainColor": "#333333", "tickColor": "#333333", "labelColor": "#222222", "labelFont": "DejaVu Sans", "labelFontWeight": 200, "labelFontSize": 32, "domainWidth": 1, "tickWidth": 1},
  "axisX": {"tickSize": 17, "labelPadding": 24, "tickCount": 5, "labelFlush": false, "labelFontSize": 34},
  "axisY": {"tickSize": 26, "labelPadding": 14, "tickCount": 4},
  "legend": {"labelFont": "DejaVu Sans", "labelFontWeight": 200, "labelFontSize": 27, "labelColor": "#222222", "symbolStrokeWidth": 3, "symbolType": "stroke"}
 }
}
